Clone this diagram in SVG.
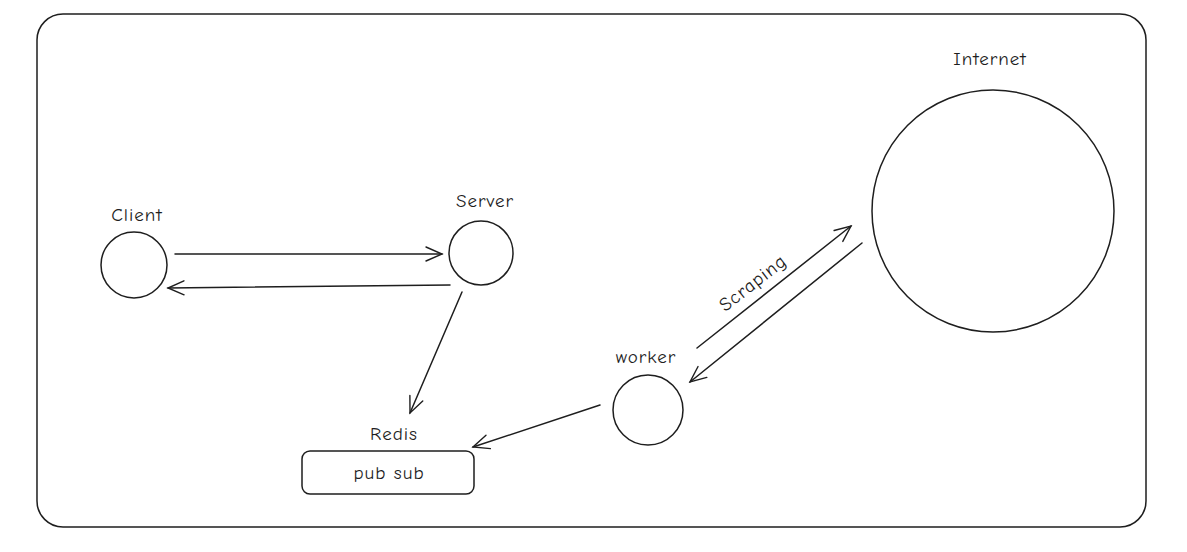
<svg xmlns="http://www.w3.org/2000/svg" width="1187" height="552" viewBox="0 0 1187 552">
<style>
.s{fill:none;stroke:#1e1e1e;stroke-width:1.5;stroke-linecap:round;stroke-linejoin:round}
.t{font-family:"Comic Neue","Noto Sans","Liberation Sans",sans-serif;font-size:19px;letter-spacing:1px;fill:#1e1e1e;text-anchor:middle;dominant-baseline:central}
</style>
<defs>
<marker id="a" viewBox="0 0 20 20" refX="18" refY="10" markerWidth="20" markerHeight="20" markerUnits="userSpaceOnUse" orient="auto">
<path d="M2,3 L18,10 L2,17" fill="none" stroke="#1e1e1e" stroke-width="1.4" stroke-linecap="round"/>
</marker>
</defs>
<rect width="1187" height="552" fill="#fff"/>
<g id="frame"><rect class="s" x="37" y="14" width="1109" height="513" rx="26"/></g>
<g id="client"><circle class="s" cx="134" cy="265" r="33"/><text class="t" x="137" y="215">Client</text></g>
<g id="server"><circle class="s" cx="481" cy="253" r="32"/><text class="t" x="485" y="201">Server</text></g>
<g id="worker"><circle class="s" cx="648" cy="410" r="35"/><text class="t" x="646" y="357">worker</text></g>
<g id="internet"><circle class="s" cx="993" cy="211" r="121"/><text class="t" x="990" y="59">Internet</text></g>
<g id="redis"><rect class="s" x="302" y="451" width="172" height="43" rx="8"/><text class="t" x="394" y="434">Redis</text><text class="t" x="389" y="473">pub sub</text></g>
<g id="connectors">
<path class="s" d="M175,254 L442,254" marker-end="url(#a)"/>
<path class="s" d="M450,285 L168,288" marker-end="url(#a)"/>
<path class="s" d="M462,292 L410,413" marker-end="url(#a)"/>
<path class="s" d="M600,405 L473,447" marker-end="url(#a)"/>
<path class="s" d="M697,348 L851,226" marker-end="url(#a)"/>
<path class="s" d="M862,243 L690,382" marker-end="url(#a)"/>
<text class="t" x="753" y="283" transform="rotate(-38 753 283)">Scraping</text>
</g>
</svg>
